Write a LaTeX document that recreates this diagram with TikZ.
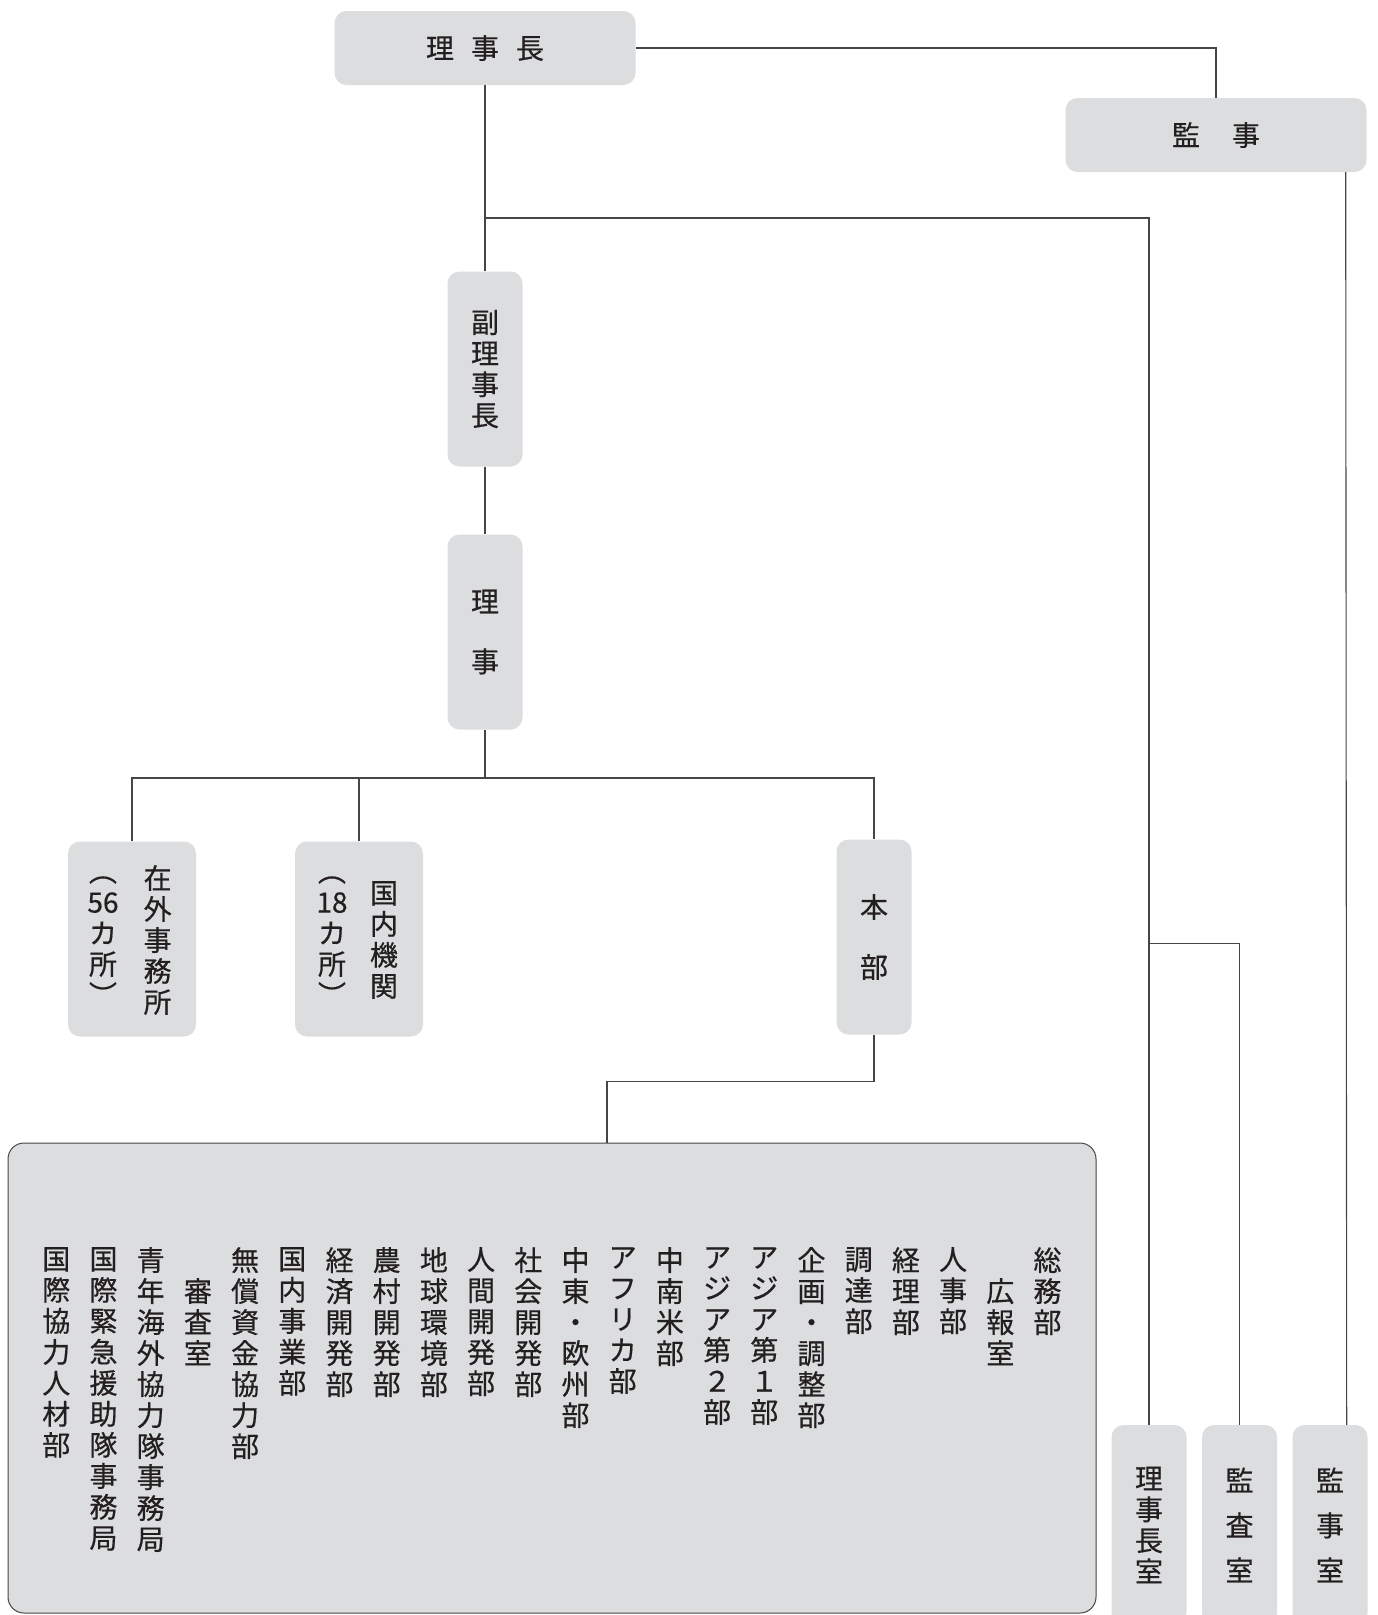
\documentclass[tikz,border=0pt]{standalone}
\usepackage{fontspec}
\usepackage{xcolor}
\setmainfont{Noto Sans CJK JP}[FakeBold=0.5]
\usetikzlibrary{positioning,calc}
\definecolor{orgfill}{RGB}{220,221,223}
\definecolor{orgline}{RGB}{70,70,70}
\definecolor{orgtext}{RGB}{35,31,32}

\begin{document}
\begin{tikzpicture}[
  x=1pt,y=-1pt,
  box/.style={fill=orgfill,rounded corners=12pt,text=orgtext,align=center,inner sep=0pt,
     font=\fontsize{28}{31}\selectfont},
  hbox/.style={box,minimum width=301pt,minimum height=74pt},
  vbox/.style={box,minimum width=75pt,minimum height=195pt},
  wbox/.style={box,minimum width=128pt,minimum height=195pt},
  col/.style={align=center,inner sep=0pt,text=orgtext,font=\fontsize{28}{31}\selectfont},
  dept/.style={col,anchor=north},
  link/.style={draw=orgline,line width=1.1pt}
]
\useasboundingbox (0,0) rectangle (1378,1615);
\clip (0,0) rectangle (1378,1615);
% top row
\node[hbox] (rijicho) at (485,48) {理\hspace{17pt}事\hspace{17pt}長};
\node[hbox] (kanji) at (1216,135) {監\hspace{32pt}事};
\node[vbox] (fuku) at (485,369) {副\\理\\事\\長};
\node[vbox,font=\fontsize{28}{60}\selectfont] (riji) at (485,632) {理\\事};
% second level
\node[wbox] (zaigai) at (132,939) {};
\node[col] (zaigaiA) at (157.6,940) {在\\外\\事\\務\\所};
\node[col] (zaigaiB) at (103,941) {︵\\56\\カ\\所\\︶};
\node[wbox] (kokunai) at (359,939) {};
\node[col] (kokunaiA) at (384,940) {国\\内\\機\\関};
\node[col] (kokunaiB) at (332,941) {︵\\18\\カ\\所\\︶};
\node[vbox,font=\fontsize{28}{60}\selectfont] (honbu) at (874,937) {本\\部};
% departments
\node[box,draw=orgline,line width=1pt,rounded corners=16pt,
  minimum width=1088pt,minimum height=470pt] (bumon) at (552,1378) {};
\foreach \t/\dy [count=\i from 0] in {
  総\\務\\部/0, 広\\報\\室/31, 人\\事\\部/0, 経\\理\\部/0, 調\\達\\部/0,
  企\\画\\・\\調\\整\\部/0, ア\\ジ\\ア\\第\\１\\部/0, ア\\ジ\\ア\\第\\２\\部/0,
  中\\南\\米\\部/0, ア\\フ\\リ\\カ\\部/0, 中\\東\\・\\欧\\州\\部/0,
  社\\会\\開\\発\\部/0, 人\\間\\開\\発\\部/0, 地\\球\\環\\境\\部/0,
  農\\村\\開\\発\\部/0, 経\\済\\開\\発\\部/0, 国\\内\\事\\業\\部/0,
  無\\償\\資\\金\\協\\力\\部/0, 審\\査\\室/31,
  青\\年\\海\\外\\協\\力\\隊\\事\\務\\局/0,
  国\\際\\緊\\急\\援\\助\\隊\\事\\務\\局/0,
  国\\際\\協\\力\\人\\材\\部/0}
  \node[dept] (d\i) at (1047.5-47.2*\i,1247+\dy) {\t};
% offices
\node[box,minimum width=75pt,minimum height=200pt] (rjs) at (1149,1525) {理\\事\\長\\室};
\node[box,minimum width=75pt,minimum height=200pt,font=\fontsize{28}{45}\selectfont] (kss) at (1239.5,1525) {監\\査\\室};
\node[box,minimum width=75pt,minimum height=200pt,font=\fontsize{28}{45}\selectfont] (kjs) at (1330,1525) {監\\事\\室};
% connectors
\coordinate (jbr) at (485,218);
\coordinate (kbr) at (1149,943.5);
\coordinate (tbr) at (485,778);
\coordinate (hbr) at (607,1081.5);
\draw[link] (rijicho.east) -| (kanji.north);
\draw[link] (rijicho.south) -- (fuku.north);
\draw[link] (jbr) -| (rjs.north);
\draw[link] (kbr) -| (kss.north);
\draw[link] ([xshift=-21pt]kanji.south east) -- ([xshift=-21pt]kjs.north east);
\draw[link] (fuku.south) -- (riji.north);
\draw[link] (riji.south) -- (tbr);
\draw[link] (zaigai.north) |- (tbr) -| (honbu.north);
\draw[link] (kokunai.north) -- (kokunai.north |- tbr);
\draw[link] (honbu.south) |- (hbr) -- (hbr |- bumon.north);
\end{tikzpicture}
\end{document}
